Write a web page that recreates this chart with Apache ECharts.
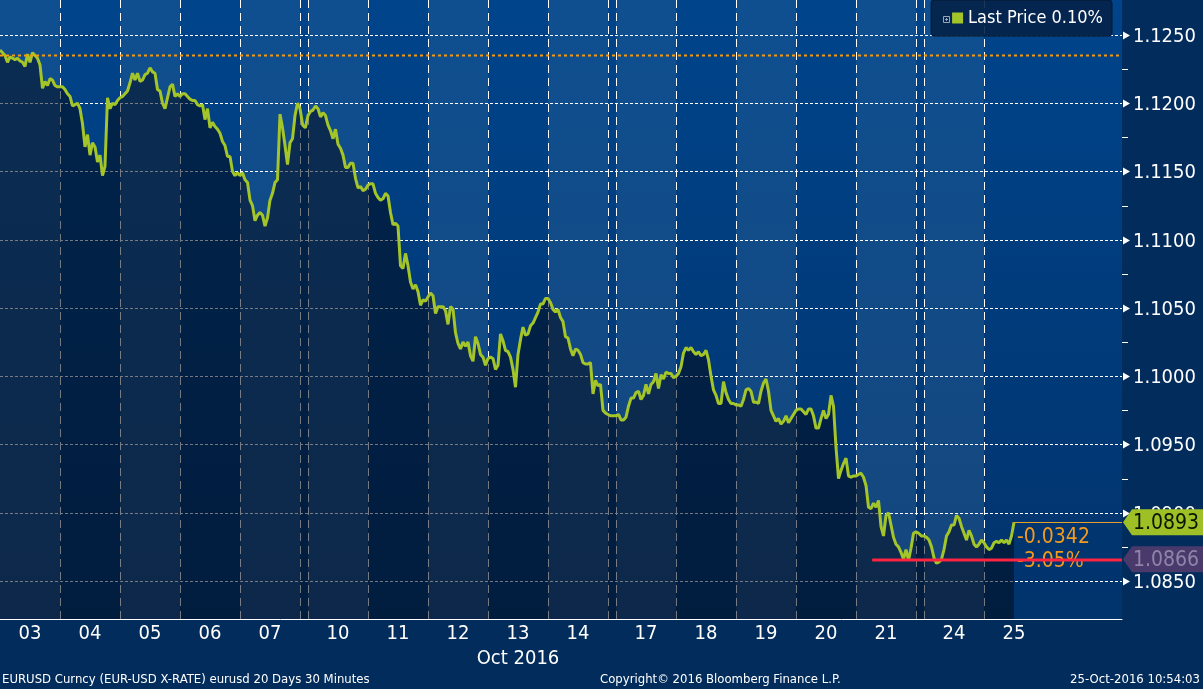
<!DOCTYPE html>
<html><head><meta charset="utf-8">
<script src="https://cdn.jsdelivr.net/npm/echarts@6/dist/echarts.min.js"></script>
<style>html,body{margin:0;padding:0;background:#022c5b;}#c{width:1203px;height:689px;}</style>
</head><body><div id="c"></div>
<script>
// ---------------- DATA (EURUSD, hourly readings) ----------------
const dayLabels = ['03','04','05','06','07','10','11','12','13','14','17','18','19','20','21','24','25'];
const monthLabel = 'Oct 2016';
const monthLabelDay = '13';
const oct03 = [1.1239,1.1237,1.1235,1.1230,1.1234,1.1233,1.1232,1.1233,1.1231,1.1230,1.1227,1.1236,1.1230,1.1237,1.1235,1.1233,1.1228,1.1211,1.1216,1.1213,1.1218,1.1217,1.1213,1.1212];
const oct04 = [1.1212,1.1212,1.1210,1.1207,1.1205,1.1198,1.1199,1.1200,1.1196,1.1185,1.1168,1.1177,1.1162,1.1171,1.1168,1.1157,1.1162,1.1147,1.1154,1.1204,1.1196,1.1200,1.1199,1.1202];
const oct05 = [1.1204,1.1205,1.1207,1.1209,1.1215,1.1222,1.1217,1.1222,1.1216,1.1217,1.1221,1.1222,1.1226,1.1223,1.1222,1.1210,1.1209,1.1200,1.1196,1.1204,1.1212,1.1214,1.1205,1.1207];
const oct06 = [1.1205,1.1207,1.1207,1.1205,1.1203,1.1202,1.1202,1.1199,1.1198,1.1199,1.1188,1.1196,1.1182,1.1186,1.1183,1.1181,1.1178,1.1172,1.1169,1.1161,1.1161,1.1150,1.1147,1.1149];
const oct07 = [1.1147,1.1149,1.1144,1.1142,1.1129,1.1125,1.1114,1.1118,1.1120,1.1118,1.1110,1.1116,1.1129,1.1134,1.1142,1.1144,1.1192,1.1182,1.1169,1.1155,1.1171,1.1174,1.1191,1.1200];
const wkend1 = [1.1196,1.1184,1.1182];
const oct10 = [1.1191,1.1194,1.1195,1.1198,1.1196,1.1190,1.1193,1.1191,1.1184,1.1180,1.1174,1.1181,1.1170,1.1167,1.1162,1.1153,1.1153,1.1156,1.1156,1.1145,1.1138,1.1139,1.1136,1.1137];
const oct11 = [1.1140,1.1141,1.1141,1.1134,1.1131,1.1129,1.1130,1.1134,1.1132,1.1120,1.1111,1.1112,1.1110,1.1081,1.1079,1.1090,1.1081,1.1069,1.1064,1.1067,1.1062,1.1052,1.1056,1.1055];
const oct12 = [1.1058,1.1061,1.1059,1.1046,1.1051,1.1051,1.1051,1.1048,1.1038,1.1051,1.1049,1.1032,1.1024,1.1020,1.1025,1.1022,1.1025,1.1015,1.1011,1.1029,1.1024,1.1016,1.1014,1.1008];
const oct13 = [1.1013,1.1014,1.1013,1.1005,1.1008,1.1031,1.1026,1.1019,1.1018,1.1014,1.1005,1.0992,1.1016,1.1027,1.1036,1.1030,1.1031,1.1037,1.1039,1.1043,1.1047,1.1053,1.1053,1.1057];
const oct14 = [1.1057,1.1054,1.1049,1.1047,1.1049,1.1043,1.1040,1.1029,1.1028,1.1020,1.1015,1.1020,1.1019,1.1016,1.1010,1.1009,1.1009,1.1010,1.0987,1.0997,1.0993,1.0994,1.0975,1.0973];
const wkend2 = [1.0972,1.0971,1.0971];
const oct17 = [1.0971,1.0972,1.0968,1.0968,1.0970,1.0978,1.0984,1.0984,1.0988,1.0989,1.0983,1.0986,1.0994,1.0987,1.0994,1.0996,1.1002,1.0991,1.1001,1.0998,1.1003,1.1002,1.1002,1.0999];
const oct18 = [1.1000,1.1002,1.1007,1.1017,1.1021,1.1019,1.1021,1.1018,1.1016,1.1018,1.1015,1.1016,1.1019,1.1012,1.1000,1.0990,1.0986,1.0980,1.0980,1.0996,1.0988,1.0983,1.0980,1.0980];
const oct19 = [1.0979,1.0979,1.0978,1.0983,1.0990,1.0991,1.0989,1.0981,1.0981,1.0980,1.0989,1.0995,1.0998,1.0989,1.0975,1.0971,1.0967,1.0969,1.0965,1.0967,1.0971,1.0966,1.0969,1.0972];
const oct20 = [1.0975,1.0976,1.0976,1.0974,1.0972,1.0976,1.0976,1.0971,1.0962,1.0962,1.0969,1.0975,1.0969,1.0972,1.0986,1.0978,1.0948,1.0925,1.0931,1.0936,1.0940,1.0927,1.0926,1.0927];
const oct21 = [1.0927,1.0928,1.0929,1.0926,1.0920,1.0904,1.0903,1.0907,1.0904,1.0909,1.0890,1.0883,1.0898,1.0900,1.0891,1.0882,1.0877,1.0875,1.0871,1.0866,1.0873,1.0865,1.0874,1.0885];
const wkend3 = [1.0886,1.0885,1.0883];
const oct24 = [1.0883,1.0882,1.0880,1.0875,1.0867,1.0863,1.0864,1.0866,1.0873,1.0883,1.0886,1.0891,1.0891,1.0898,1.0896,1.0890,1.0885,1.0880,1.0887,1.0883,1.0877,1.0875,1.0877,1.0880];
const oct25 = [1.0878,1.0875,1.0873,1.0874,1.0878,1.0879,1.0878,1.0880,1.0878,1.0880,1.0877,1.0883,1.0893];
const yTickValues = [1.0850,1.0900,1.0950,1.1000,1.1050,1.1100,1.1150,1.1200,1.1250];
const seriesName = 'Last Price';
const legendText = 'Last Price 0.10%';
const refPrice = 1.1235;          // period start reference (orange dotted)
const lastPrice = 1.0893;
const lowMarkPrice = 1.0866;      // red horizontal marker
const lowMarkDay = '21', lowMarkFrac = 0.27;
const changeAbs = '-0.0342', changePct = '-3.05%';
const footerLeft = 'EURUSD Curncy (EUR-USD X-RATE) eurusd 20 Days 30 Minutes';
const footerMid = 'Copyright\u00A9 2016 Bloomberg Finance L.P.';
const footerRight = '25-Oct-2016 10:54:03';

// ---------------- LAYOUT ----------------
const sessions = [
  {label:'03',p:oct03},{label:'04',p:oct04},{label:'05',p:oct05},{label:'06',p:oct06},{label:'07',p:oct07},{weekend:true,p:wkend1},
  {label:'10',p:oct10},{label:'11',p:oct11},{label:'12',p:oct12},{label:'13',p:oct13},{label:'14',p:oct14},{weekend:true,p:wkend2},
  {label:'17',p:oct17},{label:'18',p:oct18},{label:'19',p:oct19},{label:'20',p:oct20},{label:'21',p:oct21},{weekend:true,p:wkend3},
  {label:'24',p:oct24},{label:'25',p:oct25}
];
const PER_DAY = 24, WKND_W = 8/60, X_MAX = 18.7;
const Y_MIN = 1.082216, Y_MAX = 1.127564;
let acc = 0;
const segs = sessions.map(s => {
  const w = s.weekend ? WKND_W : 1;
  const step = s.weekend ? w / s.p.length : 1 / PER_DAY;
  const o = {label:s.label, weekend:!!s.weekend, prices:s.p, start:acc, end:acc + w, step};
  acc += w; return o;
});
const lineData = [];
segs.forEach(s => s.prices.forEach((v, j) => lineData.push([s.start + j * s.step, v])));
const lastPoint = lineData[lineData.length - 1];
const segByLabel = l => segs.find(s => s.label === l);

const FONT = '"DejaVu Sans Condensed","Noto Sans",sans-serif';
const LINE_COLOR = '#a3c52a';
const bandUpper = [
  new echarts.graphic.LinearGradient(0,0,0,1,[{offset:0,color:'#0f4f90'},{offset:1,color:'#15467c'}]),
  new echarts.graphic.LinearGradient(0,0,0,1,[{offset:0,color:'#00448b'},{offset:1,color:'#01336c'}])
];
const bandLower = ['rgba(7,17,32,0.55)','rgba(2,11,25,0.55)'];

const chart = echarts.init(document.getElementById('c'), null, {renderer:'canvas'});

function vline(api, x, color, dash, w) {
  const a = api.coord([x, Y_MAX]), b = api.coord([x, Y_MIN]);
  return {type:'line', shape:{x1:a[0], y1:a[1], x2:b[0], y2:b[1]}, style:{stroke:color, lineWidth:w, lineDash:dash}};
}
function hline(api, x0, x1, y, color, dash, w) {
  const a = api.coord([x0, y]), b = api.coord([x1, y]);
  return {type:'line', shape:{x1:a[0], y1:Math.round(a[1])+0.5, x2:b[0], y2:Math.round(b[1])+0.5}, style:{stroke:color, lineWidth:w, lineDash:dash}};
}

const option = {
  backgroundColor:'#022c5b',
  animation:false,
  grid:{left:0, right:81, top:0, bottom:70},
  xAxis:{type:'value', min:0, max:X_MAX, axisLine:{show:true, onZero:false, lineStyle:{color:'#ffffff', width:1}},
         axisTick:{show:false}, axisLabel:{show:false}, splitLine:{show:false}},
  yAxis:{type:'value', position:'right', min:Y_MIN, max:Y_MAX, scale:true,
         axisLine:{show:true, lineStyle:{color:'#ffffff', width:1}},
         axisTick:{show:false}, axisLabel:{show:false}, splitLine:{show:false}},
  legend:{data:[seriesName], right:91, top:0, selectedMode:false, z:20,
          padding:[9,9,9,21], itemWidth:11, itemHeight:11, icon:'rect',
          backgroundColor:'rgba(4,34,72,0.9)', borderColor:'#06182f', borderWidth:1, borderRadius:3,
          formatter:() => legendText,
          textStyle:{color:'#ffffff', fontSize:18, fontFamily:FONT}},
  series:[
    { // day bands
      type:'custom', name:'bands', z:1, silent:true, clip:false,
      data:segs.map(s => [s.start, Y_MIN]),
      renderItem:(params, api) => {
        const i = params.dataIndex, s = segs[i];
        const end = i === segs.length - 1 ? X_MAX : s.end;
        const a = api.coord([s.start, Y_MAX]), b = api.coord([end, Y_MIN]);
        return {type:'rect', shape:{x:a[0], y:a[1], width:b[0]-a[0], height:b[1]-a[1]}, style:{fill:bandUpper[i % 2]}};
      }
    },
    { // horizontal dotted grid
      type:'custom', name:'hgrid', z:2, silent:true,
      data:yTickValues.map(v => [0, v]),
      renderItem:(params, api) => hline(api, 0, X_MAX, yTickValues[params.dataIndex], '#ffffff', [3,2], 1)
    },
    { // vertical dashed day separators
      type:'custom', name:'vgrid', z:2, silent:true,
      data:segs.slice(1).map(s => [s.start, Y_MIN]),
      renderItem:(params, api) => {
        const x = segs[params.dataIndex + 1].start;
        const el = vline(api, x, '#ffffff', [8,5], 1);
        el.shape.x1 = el.shape.x2 = Math.round(el.shape.x1) + 0.5;
        return el;
      }
    },
    { // area under the price line, per band
      type:'custom', name:'fill', z:3, silent:true,
      data:segs.map(s => [s.start, Y_MIN]),
      renderItem:(params, api) => {
        const i = params.dataIndex, s = segs[i];
        const pts = s.prices.map((v, j) => api.coord([s.start + j * s.step, v]));
        let xr = s.start + (s.prices.length - 1) * s.step;
        if (i < segs.length - 1) { const n = segs[i+1]; pts.push(api.coord([n.start, n.prices[0]])); xr = n.start; }
        pts.push(api.coord([xr, Y_MIN])); pts.push(api.coord([s.start, Y_MIN]));
        return {type:'polygon', shape:{points:pts}, style:{fill:bandLower[i % 2]}};
      }
    },
    {
      type:'line', name:seriesName, z:4, data:lineData, showSymbol:false, symbol:'none',
      lineStyle:{color:LINE_COLOR, width:3}, itemStyle:{color:LINE_COLOR}
    },
    { // reference lines & notes
      type:'custom', name:'marks', z:6, silent:true, clip:false,
      data:[[0, refPrice],[lastPoint[0], lastPrice]],
      renderItem:(params, api) => {
        if (params.dataIndex === 0) {
          return hline(api, 0, X_MAX, refPrice, '#f39a0e', [3,3], 2);
        }
        const p = api.coord([lastPoint[0], lastPrice]);
        return {type:'group', children:[
          hline(api, lastPoint[0], X_MAX, lastPrice, '#e7a02a', null, 1),
          {type:'text', x:p[0]+3, y:p[1]+15, style:{text:changeAbs, fill:'#f29b1c', fontSize:21, fontFamily:FONT, align:'left', verticalAlign:'middle'}},
          {type:'text', x:p[0]+3, y:p[1]+39, style:{text:changePct, fill:'#f29b1c', fontSize:21, fontFamily:FONT, align:'left', verticalAlign:'middle'}}
        ]};
      }
    },
    { // red low marker
      type:'custom', name:'lowMark', z:7, silent:true, clip:false,
      data:[[segByLabel(lowMarkDay).start + lowMarkFrac, lowMarkPrice]],
      renderItem:(params, api) => {
        const el = hline(api, segByLabel(lowMarkDay).start + lowMarkFrac, X_MAX, lowMarkPrice, '#ff2442', null, 3);
        el.shape.y1 = el.shape.y2 = Math.round(el.shape.y1);
        return el;
      }
    },
    { // y-axis labels with arrows and minor ticks
      type:'custom', name:'yLabels', z:8, silent:true, clip:false,
      data:yTickValues.map(v => [X_MAX, v]),
      renderItem:(params, api) => {
        const v = yTickValues[params.dataIndex];
        const p = api.coord([X_MAX, v]);
        const x = p[0], y = Math.round(p[1]) + 0.5;
        const children = [
          {type:'polygon', shape:{points:[[x+1,y-4],[x+8,y],[x+1,y+4]]}, style:{fill:'#ffffff'}},
          {type:'text', x:x+11, y:y+1, style:{text:v.toFixed(4), fill:'#ffffff', fontSize:20, fontFamily:FONT, align:'left', verticalAlign:'middle'}}
        ];
        if (params.dataIndex < yTickValues.length - 1) {
          const m = api.coord([X_MAX, (v + yTickValues[params.dataIndex+1]) / 2]);
          children.push({type:'line', shape:{x1:x, y1:Math.round(m[1])+0.5, x2:x+6, y2:Math.round(m[1])+0.5}, style:{stroke:'#ffffff', lineWidth:1}});
        }
        return {type:'group', children};
      }
    },
    { // price tags on the axis
      type:'custom', name:'tags', z:9, silent:true, clip:false,
      data:[[X_MAX, lastPrice],[X_MAX, lowMarkPrice]],
      renderItem:(params, api) => {
        const isLast = params.dataIndex === 0;
        const v = isLast ? lastPrice : lowMarkPrice;
        const p = api.coord([X_MAX, v]);
        const x = p[0] + 1, y = p[1], h = 13, r = 1203;
        return {type:'group', children:[
          {type:'polygon', shape:{points:[[x,y],[x+9,y-h],[r,y-h],[r,y+h],[x+9,y+h]]},
           style:{fill:isLast ? '#9ebf25' : '#4a3a6c'}},
          {type:'text', x:x+10, y:y+1, style:{text:v.toFixed(4), fill:isLast ? '#0c1400' : '#8e85aa', fontSize:21, fontFamily:FONT, align:'left', verticalAlign:'middle'}}
        ]};
      }
    },
    { // x-axis day labels
      type:'custom', name:'xLabels', z:8, silent:true, clip:false,
      data:segs.filter(s => !s.weekend).map(s => [s.start + 0.5, Y_MIN]),
      renderItem:(params, api) => {
        const s = segs.filter(q => !q.weekend)[params.dataIndex];
        const p = api.coord([s.start + 0.5, Y_MIN]);
        const children = [{type:'text', x:p[0], y:p[1]+15, style:{text:s.label, fill:'#ffffff', fontSize:20, fontFamily:FONT, align:'center', verticalAlign:'middle'}}];
        if (s.label === monthLabelDay) children.push({type:'text', x:p[0], y:p[1]+40, style:{text:monthLabel, fill:'#ffffff', fontSize:20, fontFamily:FONT, align:'center', verticalAlign:'middle'}});
        return {type:'group', children};
      }
    }
  ]
};
chart.setOption(option);
// legend expand icon and footer texts (decorations drawn above everything)
chart.setOption({
  graphic:{elements:[
    {type:'rect', id:'ic0', z:200, zlevel:1, shape:{x:943.5,y:16.5,width:6,height:6}, style:{fill:'none', stroke:'#9aa6b8', lineWidth:1}},
    {type:'line', id:'ic1', z:200, zlevel:1, shape:{x1:945,y1:19.5,x2:948,y2:19.5}, style:{stroke:'#9aa6b8', lineWidth:1}},
    {type:'line', id:'ic2', z:200, zlevel:1, shape:{x1:946.5,y1:18,x2:946.5,y2:21}, style:{stroke:'#9aa6b8', lineWidth:1}},
    {type:'text', id:'f1', left:2, top:673, style:{text:footerLeft, fill:'#ffffff', fontSize:13, fontFamily:FONT}},
    {type:'text', id:'f2', left:600, top:673, style:{text:footerMid, fill:'#ffffff', fontSize:13, fontFamily:FONT}},
    {type:'text', id:'f3', right:3, top:673, style:{text:footerRight, fill:'#ffffff', fontSize:13, fontFamily:FONT}}
  ]}
});
</script>
</body></html>
